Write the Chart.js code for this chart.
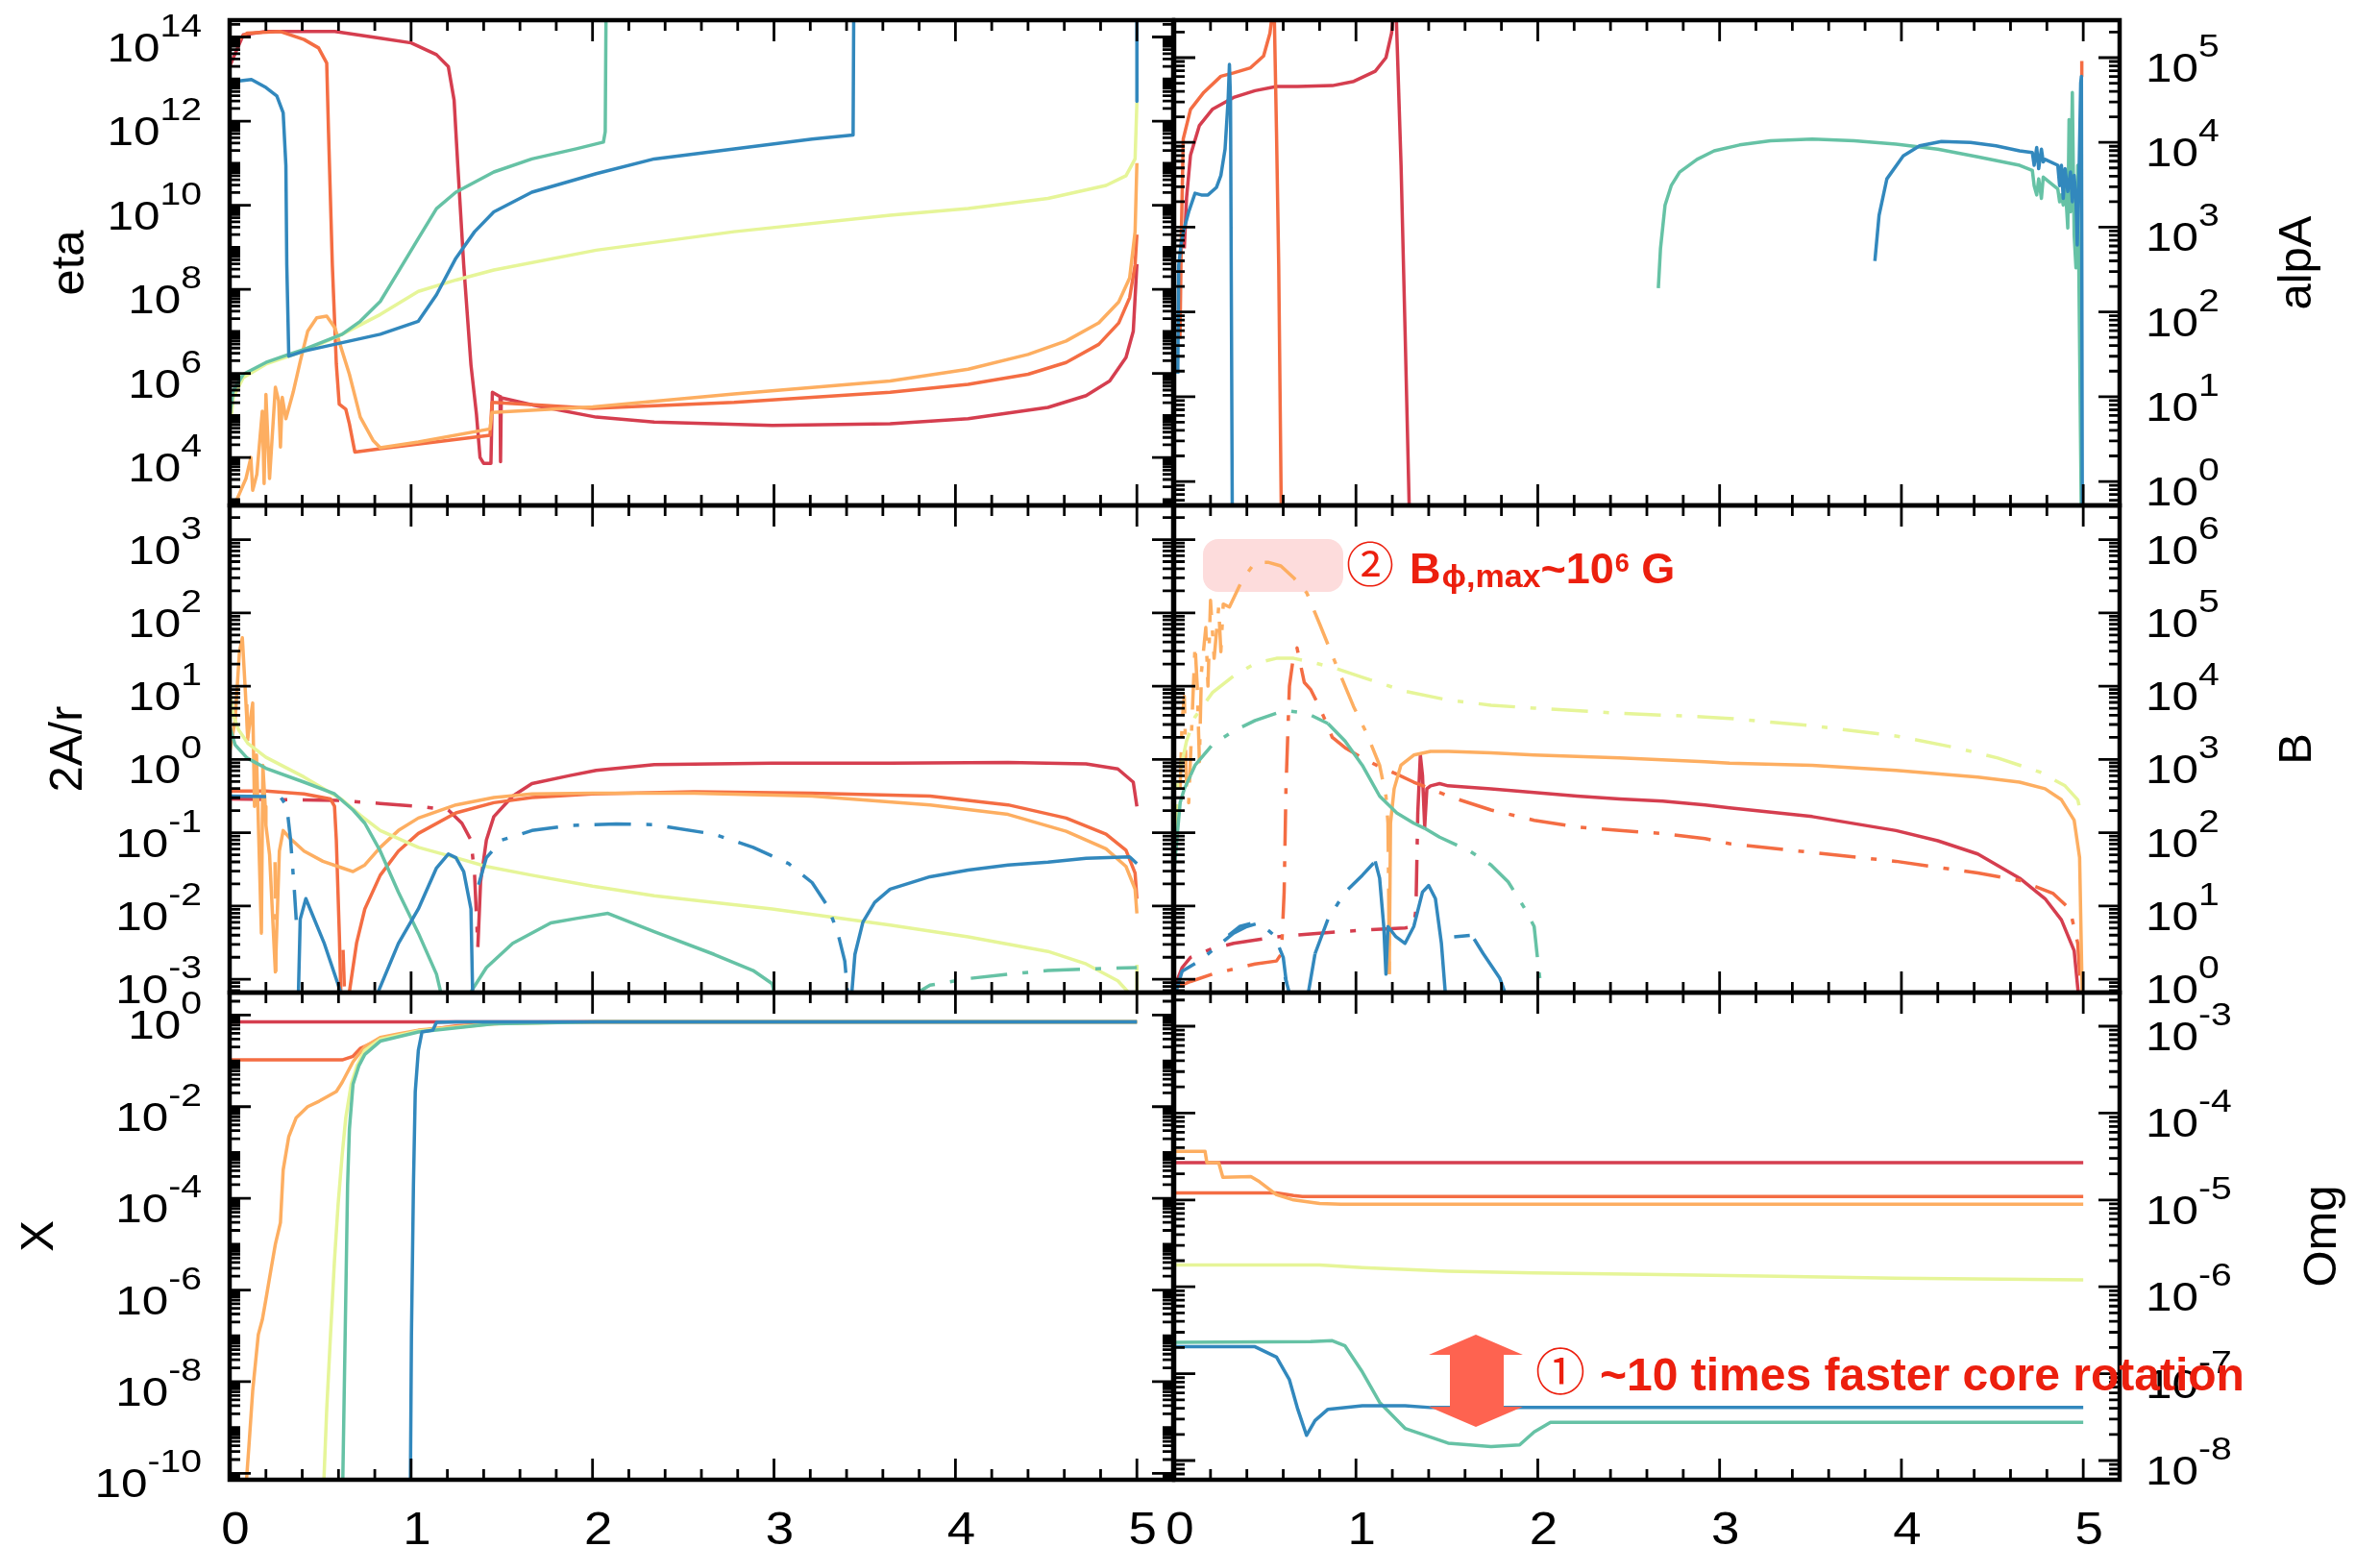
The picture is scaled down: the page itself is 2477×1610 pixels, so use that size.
<!DOCTYPE html>
<html>
<head>
<meta charset="utf-8">
<title>eta / alpA / 2A/r / B / X / Omg</title>
<script src="https://cdn.jsdelivr.net/npm/chart.js@4.4.1/dist/chart.umd.min.js"></script>
<style>
  html, body { margin: 0; padding: 0; background: #ffffff; }
  #page { position: relative; width: 2477px; height: 1610px; overflow: hidden; background: #ffffff; }
  #page canvas { position: absolute; left: 0; top: 0; }
</style>
</head>
<body>
<div id="page">
  <canvas id="etaChart" width="2477" height="1610"></canvas>
  <canvas id="alpAChart" width="2477" height="1610"></canvas>
  <canvas id="arChart" width="2477" height="1610"></canvas>
  <canvas id="bChart" width="2477" height="1610"></canvas>
  <canvas id="xChart" width="2477" height="1610"></canvas>
  <canvas id="omgChart" width="2477" height="1610"></canvas>
</div>
<script>
// x tick labels (same for all panels)
const xTickLabels = [0, 1, 2, 3, 4, 5];

// labelled decades (log10) of each y axis
const etaTicks = [4, 6, 8, 10, 12, 14];
const alpATicks = [0, 1, 2, 3, 4, 5];
const arTicks = [-3, -2, -1, 0, 1, 2, 3];
const bTicks = [0, 1, 2, 3, 4, 5, 6];
const xTicks = [-10, -8, -6, -4, -2, 0];
const omgTicks = [-8, -7, -6, -5, -4, -3];

// series: [x, log10(value)], null = gap
// --- eta
const etaRed = [[0,13.3],[0.075,14.05],[0.2,14.13],[0.58,14.13],[0.83,13.97],[1.0,13.86],[1.14,13.58],[1.205,13.3],[1.237,12.5],[1.258,10.9],[1.29,8.58],[1.33,6.2],[1.36,5.04],[1.38,4.0],[1.40,3.86],[1.44,3.86],[1.448,5.55],[1.49,5.45],[1.493,3.9],[1.497,5.42],[1.67,5.25],[2.02,4.96],[2.34,4.84],[2.99,4.76],[3.64,4.8],[4.07,4.92],[4.51,5.19],[4.72,5.47],[4.85,5.82],[4.94,6.38],[4.98,7.0],[5.0,8.6]];
const etaOrange = [[0,13.78],[0.095,14.09],[0.28,14.13],[0.41,13.94],[0.49,13.74],[0.535,13.38],[0.545,11.73],[0.566,8.58],[0.588,6.22],[0.604,5.27],[0.64,5.15],[0.66,4.8],[0.69,4.13],[0.83,4.21],[1.435,4.53],[1.446,5.31],[1.7,5.25],[2.0,5.17],[2.78,5.31],[3.64,5.55],[4.07,5.74],[4.4,5.98],[4.61,6.26],[4.79,6.69],[4.9,7.2],[4.96,7.8],[4.99,8.58],[5.0,9.3]];
const etaLightOrange = [[0,2.8],[0.03,2.9],[0.06,3.2],[0.09,3.5],[0.117,4.0],[0.127,3.22],[0.15,3.6],[0.18,5.1],[0.19,3.38],[0.2,5.5],[0.22,3.5],[0.252,5.67],[0.27,5.35],[0.28,4.25],[0.29,5.43],[0.31,4.92],[0.35,5.55],[0.39,6.3],[0.43,7.0],[0.48,7.32],[0.535,7.36],[0.58,7.08],[0.62,6.53],[0.66,5.98],[0.72,4.96],[0.79,4.41],[0.83,4.23],[1.04,4.37],[1.435,4.68],[1.446,5.07],[2.0,5.2],[2.78,5.51],[3.64,5.82],[4.07,6.1],[4.4,6.45],[4.61,6.77],[4.79,7.2],[4.9,7.7],[4.96,8.27],[4.99,9.37],[5.0,11.0]];
const etaYellow = [[0,4.6],[0.02,5.43],[0.075,5.9],[0.2,6.22],[0.41,6.53],[0.62,6.93],[0.83,7.4],[1.04,7.95],[1.247,8.22],[1.456,8.46],[2.02,8.93],[2.78,9.37],[3.64,9.76],[4.07,9.92],[4.51,10.16],[4.83,10.47],[4.94,10.7],[4.99,11.1],[5.0,12.44]];
const etaTeal = [[0,5.0],[0.02,5.59],[0.075,5.98],[0.2,6.26],[0.325,6.45],[0.41,6.57],[0.62,6.93],[0.72,7.24],[0.83,7.71],[0.93,8.42],[1.04,9.21],[1.14,9.92],[1.247,10.31],[1.456,10.79],[1.666,11.1],[1.91,11.34],[2.06,11.5],[2.07,11.75],[2.075,15]];
const etaBlue = [[0,12.7],[0.01,12.83],[0.04,12.95],[0.12,12.99],[0.2,12.8],[0.26,12.6],[0.295,12.2],[0.31,10.94],[0.315,8.58],[0.326,6.41],[0.41,6.53],[0.62,6.73],[0.83,6.93],[1.04,7.24],[1.14,7.87],[1.247,8.74],[1.35,9.37],[1.456,9.84],[1.666,10.31],[2.02,10.75],[2.34,11.1],[2.78,11.34],[3.21,11.57],[3.436,11.67],[3.44,15],[5.0,15],[5.0,12.47]];

// --- alpA
const alpARed = [[0.056,2.75],[0.068,3.34],[0.09,3.85],[0.139,4.2],[0.21,4.39],[0.327,4.53],[0.445,4.61],[0.563,4.66],[0.68,4.66],[0.87,4.67],[0.988,4.72],[1.106,4.84],[1.165,5.0],[1.196,5.29],[1.21,5.6],[1.22,5.6],[1.248,3.73],[1.27,1.78],[1.295,-0.5]];
const alpAOrange = [[0.032,1.68],[0.04,2.95],[0.05,4.04],[0.09,4.39],[0.163,4.59],[0.257,4.78],[0.327,4.82],[0.42,4.88],[0.492,5.02],[0.527,5.29],[0.545,5.6],[0.55,5.6],[0.563,4.12],[0.575,2.56],[0.59,-0.5],[2,null],[4.99,4.78],[4.992,4.96]];
const alpATeal = [[2.663,2.28],[2.675,2.75],[2.70,3.26],[2.734,3.49],[2.78,3.65],[2.876,3.8],[2.97,3.9],[3.11,3.97],[3.28,4.02],[3.51,4.04],[3.74,4.02],[3.97,3.98],[4.2,3.92],[4.42,3.83],[4.65,3.73],[4.72,3.67],[4.73,3.49],[4.744,3.38],[4.755,3.57],[4.77,3.34],[4.78,3.59],[4.86,3.45],[4.87,3.3],[4.88,3.38],[4.89,3.26],[4.9,3.53],[4.915,2.99],[4.922,4.27],[4.93,3.18],[4.94,4.59],[4.95,2.91],[4.96,2.52],[4.97,3.73],[4.99,-0.5]];
const alpABlue = [[0.02,1.27],[0.025,2.55],[0.04,2.83],[0.056,2.99],[0.08,3.18],[0.115,3.4],[0.15,3.38],[0.186,3.38],[0.233,3.47],[0.257,3.61],[0.28,3.92],[0.297,4.51],[0.304,4.92],[0.31,4.5],[0.32,-0.5],[2,null],[3.854,2.6],[3.877,3.14],[3.92,3.57],[4.01,3.84],[4.1,3.96],[4.22,4.01],[4.38,4.0],[4.52,3.96],[4.65,3.9],[4.72,3.88],[4.73,3.73],[4.744,3.94],[4.755,3.69],[4.77,3.92],[4.78,3.77],[4.79,3.8],[4.86,3.73],[4.87,3.49],[4.88,3.73],[4.89,3.34],[4.9,3.69],[4.915,3.42],[4.93,3.65],[4.94,3.3],[4.95,3.61],[4.96,3.34],[4.967,2.79],[4.977,3.65],[4.986,4.7],[4.99,4.78],[4.995,-0.5]];

// --- 2A/r (solid = positive, dash-dot = negative)
const arRed = [[1.368,-2.56],[1.383,-1.67],[1.415,-1.1],[1.456,-0.78],[1.56,-0.5],[1.666,-0.33],[1.875,-0.22],[2.02,-0.15],[2.34,-0.07],[2.99,-0.05],[3.64,-0.05],[4.29,-0.04],[4.72,-0.06],[4.895,-0.13],[4.98,-0.31],[5.0,-0.64]];
const arRedNeg = [[0,-0.54],[0.3,-0.55],[0.6,-0.56],[0.83,-0.6],[1.04,-0.64],[1.205,-0.69],[1.28,-0.87],[1.33,-1.1],[1.35,-1.58],[1.368,-2.56]];
const arOrange = [[0,-0.43],[0.2,-0.43],[0.41,-0.47],[0.556,-0.54],[0.578,-0.64],[0.588,-1.1],[0.605,-2.42],[0.615,-3.4],[0.65,-3.4],[0.66,-3.17],[0.70,-2.5],[0.745,-2.04],[0.83,-1.58],[0.93,-1.25],[1.04,-1.01],[1.247,-0.73],[1.456,-0.59],[1.666,-0.52],[2.0,-0.47],[2.56,-0.44],[3.21,-0.46],[3.86,-0.5],[4.29,-0.62],[4.61,-0.8],[4.83,-1.02],[4.94,-1.24],[4.99,-1.55],[5.0,-1.9]];
const arOrangeNeg = [[0.625,-2.6],[0.635,-3.3]];
const arLightOrange = [[0,0.1],[0.03,0.53],[0.054,1.47],[0.07,1.66],[0.085,1.0],[0.1,0.3],[0.127,0.77],[0.137,-0.64],[0.148,0.06],[0.175,-2.37],[0.183,-0.08],[0.196,-0.64],[0.2,-0.9],[0.22,-1.3],[0.252,-2.9],[0.274,-1.25],[0.295,-0.97],[0.326,-1.06],[0.41,-1.25],[0.514,-1.39],[0.62,-1.48],[0.68,-1.53],[0.745,-1.44],[0.83,-1.2],[0.93,-0.97],[1.04,-0.8],[1.247,-0.62],[1.456,-0.52],[1.666,-0.47],[2.0,-0.46],[2.56,-0.46],[3.21,-0.5],[3.86,-0.62],[4.29,-0.75],[4.61,-0.98],[4.83,-1.22],[4.94,-1.46],[4.99,-1.77],[5.0,-2.1]];
const arLightOrangeNeg = [[0.095,0.75],[0.1,0.2],[0.12,null],[0.25,-1.4],[0.255,-2.95]];
const arYellow = [[0,0.95],[0.02,0.6],[0.05,0.4],[0.1,0.22],[0.2,0.03],[0.41,-0.24],[0.62,-0.55],[0.72,-0.76],[0.83,-0.97],[1.04,-1.2],[1.247,-1.34],[1.415,-1.46],[1.666,-1.58],[2.0,-1.73],[2.34,-1.86],[2.99,-2.04],[3.64,-2.26],[4.07,-2.42],[4.51,-2.62],[4.72,-2.79],[4.895,-3.02],[4.98,-3.25]];
const arYellowNeg = [[5.0,-3.3],[5.0,-2.66]];
const arTeal = [[0,0.45],[0.03,0.2],[0.096,0.02],[0.2,-0.12],[0.41,-0.31],[0.578,-0.47],[0.68,-0.69],[0.745,-0.87],[0.83,-1.25],[0.93,-1.81],[1.04,-2.37],[1.14,-2.93],[1.175,-3.3],[1.32,-3.3],[1.33,-3.17],[1.415,-2.84],[1.56,-2.51],[1.77,-2.23],[1.91,-2.17],[2.085,-2.1],[2.34,-2.35],[2.67,-2.66],[2.885,-2.88],[2.99,-3.06],[3.01,-3.3]];
const arTealNeg = [[3.71,-3.3],[3.86,-3.08],[4.07,-2.99],[4.29,-2.93],[4.51,-2.88],[4.72,-2.86],[5.0,-2.84]];
const arBlue = [[0.378,-3.3],[0.389,-2.18],[0.42,-1.9],[0.52,-2.5],[0.629,-3.3],[0.7,null],[0.797,-3.3],[0.93,-2.51],[1.04,-2.04],[1.14,-1.48],[1.205,-1.29],[1.247,-1.34],[1.29,-1.53],[1.33,-2.04],[1.34,-3.3],[2,null],[3.425,-3.3],[3.446,-2.66],[3.49,-2.22],[3.555,-1.95],[3.64,-1.77],[3.86,-1.6],[4.07,-1.51],[4.29,-1.44],[4.51,-1.4],[4.72,-1.35],[4.96,-1.33],[5.0,-1.42]];
const arBlueNeg = [[0,-0.5],[0.28,-0.51],[0.315,-0.64],[0.336,-1.1],[0.357,-1.8],[0.367,-2.19],[1.3,null],[1.372,-1.71],[1.415,-1.34],[1.5,-1.1],[1.666,-0.97],[1.875,-0.9],[2.13,-0.88],[2.34,-0.89],[2.67,-1.02],[2.885,-1.2],[3.08,-1.42],[3.21,-1.68],[3.295,-2.0],[3.35,-2.35],[3.39,-2.75],[3.41,-3.3]];

// --- B (solid / dash-dot components)
const bRed = [[1.34,2.27],[1.354,3.06],[1.366,2.78],[1.378,2.08],[1.39,2.6],[1.41,2.64],[1.46,2.67],[1.507,2.64],[1.743,2.6],[1.98,2.55],[2.215,2.5],[2.45,2.46],[2.687,2.43],[2.92,2.38],[3.055,2.34],[3.51,2.22],[3.97,2.03],[4.2,1.89],[4.42,1.71],[4.65,1.38],[4.79,1.1],[4.88,0.81],[4.95,0.39],[4.977,-0.3]];
const bRedDash = [[0,-0.12],[0.044,0.16],[0.09,0.3],[0.21,0.42],[0.327,0.49],[0.563,0.58],[0.8,0.63],[1.035,0.67],[1.27,0.7],[1.318,0.72],[1.33,0.96],[1.34,2.27]];
const bOrangeDash = [[0.02,-0.1],[0.09,-0.03],[0.21,0.07],[0.327,0.14],[0.445,0.21],[0.563,0.25],[0.59,0.35],[0.605,1.19],[0.615,2.6],[0.634,4.0],[0.657,4.42],[0.676,4.52],[0.692,4.33],[0.716,4.05],[0.752,3.95],[0.788,3.77],[0.823,3.58],[0.87,3.3],[0.94,3.16],[1.035,3.02],[1.13,2.9],[1.224,2.8],[1.318,2.69],[1.41,2.6],[1.507,2.5],[1.743,2.31],[1.98,2.17],[2.215,2.08],[2.45,2.03],[2.687,1.99],[2.92,1.92],[3.055,1.85],[3.51,1.73],[3.97,1.61],[4.42,1.45],[4.65,1.35],[4.835,1.17],[4.926,0.96],[4.97,0.49],[4.99,-0.3]];
const bLightOrange = [[1.183,0.07],[1.19,2.13],[1.21,2.6],[1.247,2.92],[1.318,3.06],[1.41,3.11],[1.507,3.11],[1.743,3.09],[1.98,3.06],[2.45,3.02],[2.92,2.97],[3.055,2.95],[3.51,2.92],[3.97,2.85],[4.42,2.76],[4.65,2.69],[4.79,2.6],[4.88,2.45],[4.95,2.17],[4.98,1.66],[4.995,-0.3]];
const bLightOrangeDash = [[0.033,2.6],[0.044,3.53],[0.056,3.86],[0.068,2.6],[0.08,2.41],[0.115,4.56],[0.127,4.0],[0.139,2.97],[0.15,4.19],[0.174,4.8],[0.186,4.0],[0.2,5.17],[0.22,4.38],[0.245,5.08],[0.257,4.47],[0.27,5.12],[0.304,5.08],[0.375,5.45],[0.445,5.69],[0.516,5.69],[0.587,5.64],[0.657,5.48],[0.73,5.27],[0.8,4.85],[0.893,4.28],[0.987,3.72],[1.06,3.35],[1.13,2.92],[1.165,2.5],[1.176,2.13],[1.18,1.19],[1.183,0.07]];
const bYellowDash = [[0.009,1.89],[0.02,2.69],[0.068,3.25],[0.115,3.58],[0.21,3.91],[0.327,4.14],[0.445,4.31],[0.563,4.38],[0.657,4.38],[0.752,4.33],[0.893,4.24],[1.035,4.12],[1.27,3.93],[1.507,3.81],[1.743,3.74],[1.98,3.7],[2.45,3.63],[2.92,3.58],[3.055,3.56],[3.51,3.46],[3.97,3.32],[4.3,3.16],[4.53,3.02],[4.76,2.83],[4.9,2.64],[4.97,2.45],[4.995,2.17]];
const bTeal = [[0.0,1.5],[0.016,1.94],[0.033,2.41],[0.056,2.6],[0.09,2.78],[0.5,null],[0.846,3.49],[0.94,3.25],[1.035,2.92],[1.13,2.5],[1.224,2.27],[1.318,2.13],[1.378,2.06]];
const bTealDash = [[0.09,2.78],[0.115,2.92],[0.21,3.2],[0.327,3.39],[0.445,3.53],[0.563,3.63],[0.634,3.66],[0.73,3.63],[0.846,3.49],[1.0,null],[1.378,2.06],[1.46,1.94],[1.626,1.75],[1.743,1.56],[1.837,1.33],[1.93,0.96],[1.98,0.72],[2.0,0.25],[2.026,-0.3]];
const bBlue = [[0.3,0.6],[0.36,0.72],[0.42,0.76],[0.5,null],[0.61,0.03],[0.646,-0.3],[0.7,null],[0.73,-0.3],[0.775,0.35],[0.9,null],[1.106,1.61],[1.13,1.38],[1.153,0.72],[1.165,0.07],[1.176,0.72],[1.22,0.58],[1.27,0.49],[1.318,0.72],[1.366,1.19],[1.4,1.28],[1.437,1.1],[1.47,0.49],[1.495,-0.3],[1.6,null],[1.65,0.55],[1.7,0.35],[1.79,0.02],[1.837,-0.3]];
const bBlueDash = [[0.01,-0.17],[0.044,0.11],[0.139,0.25],[0.257,0.49],[0.327,0.63],[0.4,0.72],[0.47,0.77],[0.55,0.6],[0.6,0.3],[0.63,-0.3],[0.7,null],[0.775,0.35],[0.846,0.82],[0.94,1.19],[1.035,1.42],[1.106,1.61],[1.2,null],[1.54,0.58],[1.626,0.6]];

// --- X
const xRed = [[0,-0.147],[5.0,-0.147]];
const xOrange = [[0,-0.98],[0.62,-0.98],[0.68,-0.9],[0.72,-0.73],[0.79,-0.6],[0.83,-0.53],[0.93,-0.43],[1.04,-0.35],[1.247,-0.24],[1.456,-0.19],[1.666,-0.155],[2.02,-0.147],[5.0,-0.147]];
const xLightOrange = [[0.09,-10.3],[0.106,-9.42],[0.127,-8.2],[0.158,-6.97],[0.18,-6.65],[0.2,-6.2],[0.23,-5.5],[0.252,-5.0],[0.28,-4.53],[0.295,-3.38],[0.326,-2.65],[0.367,-2.24],[0.43,-2.0],[0.493,-1.88],[0.588,-1.67],[0.62,-1.47],[0.68,-1.02],[0.745,-0.69],[0.83,-0.49],[0.93,-0.41],[1.04,-0.33],[1.456,-0.18],[2.02,-0.147],[5.0,-0.147]];
const xYellow = [[0.518,-10.3],[0.535,-8.6],[0.556,-6.97],[0.578,-5.34],[0.598,-4.12],[0.62,-3.06],[0.64,-2.24],[0.67,-1.51],[0.703,-1.1],[0.745,-0.77],[0.83,-0.53],[1.04,-0.35],[1.456,-0.19],[2.02,-0.147],[5.0,-0.147]];
const xTeal = [[0.623,-10.3],[0.63,-8.6],[0.64,-6.16],[0.65,-3.71],[0.66,-2.49],[0.68,-1.51],[0.713,-1.1],[0.745,-0.86],[0.83,-0.57],[1.04,-0.37],[1.456,-0.19],[2.02,-0.147],[5.0,-0.147]];
const xBlue = [[0.996,-10.3],[1.002,-6.97],[1.013,-3.71],[1.023,-1.67],[1.04,-0.77],[1.06,-0.37],[1.12,-0.33],[1.14,-0.16],[1.247,-0.147],[5.0,-0.147]];

// --- Omg
const omgRed = [[0,-4.57],[5.0,-4.57]];
const omgOrange = [[0,-4.92],[0.563,-4.92],[0.657,-4.95],[0.705,-4.96],[5.0,-4.96]];
const omgLightOrange = [[0,-4.44],[0.17,-4.44],[0.18,-4.57],[0.245,-4.57],[0.268,-4.74],[0.422,-4.73],[0.469,-4.79],[0.563,-4.94],[0.657,-5.0],[0.8,-5.04],[0.917,-5.05],[5.0,-5.05]];
const omgYellow = [[0,-5.75],[0.8,-5.75],[1.035,-5.78],[1.507,-5.82],[1.98,-5.84],[2.687,-5.86],[3.32,-5.88],[3.97,-5.9],[5.0,-5.92]];
const omgTeal = [[0,-6.64],[0.75,-6.63],[0.87,-6.62],[0.94,-6.68],[1.035,-6.98],[1.13,-7.33],[1.27,-7.63],[1.507,-7.8],[1.743,-7.84],[1.9,-7.82],[1.98,-7.67],[2.07,-7.56],[5.0,-7.56]];
const omgBlue = [[0,-6.69],[0.445,-6.69],[0.563,-6.81],[0.634,-7.07],[0.68,-7.41],[0.728,-7.71],[0.775,-7.54],[0.846,-7.41],[1.035,-7.37],[1.27,-7.37],[1.41,-7.39],[5.0,-7.39]];

// colours
const RED = '#d53e4f', ORANGE = '#f46d43', LORANGE = '#fdae61', YELLOW = '#e6f598', TEAL = '#66c2a5', BLUE = '#3288bd';
const NOTE_RED = '#ec1f0e';
const FONT = '"Liberation Sans", Arial, sans-serif';
const DASHDOT = [38, 16, 6, 16];
const LABEL_SX = 1.15;

function makeLine(arr, color, dashed) {
  return {
    data: arr.map(p => ({ x: p[0], y: p[1] })),
    borderColor: color,
    borderWidth: 3.5,
    borderDash: dashed ? DASHDOT : [],
    borderJoinStyle: 'round',
    pointRadius: 0,
    fill: false,
    tension: 0,
    spanGaps: false
  };
}

// "10" with a superscript exponent, centred on y
function drawPow(ctx, exp, x, y, align) {
  ctx.font = '43px ' + FONT;
  const w10 = ctx.measureText('10').width;
  ctx.font = '34px ' + FONT;
  const wExp = ctx.measureText(String(exp)).width;
  const total = (w10 + wExp) * LABEL_SX;
  const x0 = align === 'right' ? x - total : x;
  ctx.save();
  ctx.translate(x0, y + 25);
  ctx.scale(LABEL_SX, 1);
  ctx.fillStyle = '#000';
  ctx.textAlign = 'left';
  ctx.textBaseline = 'alphabetic';
  ctx.font = '43px ' + FONT;
  ctx.fillText('10', 0, 0);
  ctx.font = '34px ' + FONT;
  ctx.fillText(String(exp), w10, -26);
  ctx.restore();
}

function axesPlugin(p) {
  return {
    id: 'axes',
    beforeDatasetsDraw(chart) {
      if (p.under) p.under(chart.ctx);
    },
    afterDatasetsDraw(chart) {
      const ctx = chart.ctx, a = chart.chartArea;
      const xs = chart.scales.x, ys = chart.scales.y;
      ctx.save();
      ctx.strokeStyle = '#000';
      ctx.lineWidth = 2.8;
      ctx.beginPath();
      for (let i = 0; i <= 26; i++) {
        const px = xs.getPixelForValue(i / 5);
        const len = i % 5 === 0 ? 22 : 11;
        ctx.moveTo(px, a.bottom); ctx.lineTo(px, a.bottom - len);
        ctx.moveTo(px, a.top); ctx.lineTo(px, a.top + len);
      }
      for (let d = Math.floor(ys.min); d <= Math.ceil(ys.max); d++) {
        for (let m = 1; m <= 9; m++) {
          const v = d + Math.log10(m);
          if (v < ys.min || v > ys.max) continue;
          const py = ys.getPixelForValue(v);
          const len = (m === 1 && p.ticks.includes(d)) ? 22 : 11;
          ctx.moveTo(a.left, py); ctx.lineTo(a.left + len, py);
          ctx.moveTo(a.right, py); ctx.lineTo(a.right - len, py);
        }
      }
      ctx.stroke();
      ctx.lineWidth = 4.5;
      ctx.strokeRect(a.left, a.top, a.right - a.left, a.bottom - a.top);
      ctx.restore();
    },
    afterDraw(chart) {
      const ctx = chart.ctx, a = chart.chartArea;
      const xs = chart.scales.x, ys = chart.scales.y;
      ctx.save();
      p.ticks.forEach(d => {
        const py = ys.getPixelForValue(d);
        if (p.side === 'left') drawPow(ctx, d, a.left - 29, py, 'right');
        else drawPow(ctx, d, a.right + 27, py, 'left');
      });
      if (p.xLabels) {
        ctx.font = '48px ' + FONT;
        ctx.fillStyle = '#000';
        ctx.textAlign = 'center';
        ctx.textBaseline = 'alphabetic';
        xTickLabels.forEach(k => {
          ctx.save();
          ctx.translate(xs.getPixelForValue(k) + 6, 1607);
          ctx.scale(1.1, 1);
          ctx.fillText(String(k), 0, 0);
          ctx.restore();
        });
      }
      ctx.font = '49px ' + FONT;
      ctx.fillStyle = '#000';
      ctx.textAlign = 'center';
      ctx.textBaseline = 'alphabetic';
      ctx.translate(p.titleX, (a.top + a.bottom) / 2);
      ctx.rotate(-Math.PI / 2);
      ctx.fillText(p.title, 0, 0);
      ctx.restore();
      if (p.over) p.over(ctx);
    }
  };
}

function makePanel(p) {
  const [l, t, r, b] = p.box;
  new Chart(document.getElementById(p.id), {
    type: 'line',
    data: { datasets: p.sets.map(s => makeLine(s[0], s[1], s[2])).reverse() },
    options: {
      responsive: false,
      animation: false,
      devicePixelRatio: 1,
      events: [],
      layout: { padding: { left: l, top: t, right: 2477 - r, bottom: 1610 - b } },
      scales: {
        x: { type: 'linear', min: 0, max: 5.2, display: false },
        y: { type: 'linear', min: p.yMin, max: p.yMax, display: false }
      },
      plugins: { legend: { display: false }, tooltip: { enabled: false } }
    },
    plugins: [axesPlugin(p)]
  });
}

// annotation: shaded box behind the B_phi peak
function bBox(ctx) {
  ctx.save();
  ctx.fillStyle = '#fddcdc';
  ctx.beginPath();
  ctx.roundRect(1252, 561, 146, 55, 16);
  ctx.fill();
  ctx.restore();
}

function bNote(ctx) {
  ctx.save();
  ctx.fillStyle = NOTE_RED;
  ctx.textAlign = 'left';
  ctx.textBaseline = 'alphabetic';
  ctx.font = '50px "Noto Sans CJK JP", "DejaVu Sans", sans-serif';
  ctx.fillText('②', 1401, 606);
  let x = 1467;
  ctx.font = 'bold 45px ' + FONT;
  ctx.fillText('B', x, 607);
  x += ctx.measureText('B').width + 1;
  ctx.font = 'bold 34px ' + FONT + ', "DejaVu Sans"';
  ctx.fillText('ϕ,max', x, 611);
  x += ctx.measureText('ϕ,max').width;
  ctx.font = 'bold 45px ' + FONT;
  ctx.fillText('~10', x, 607);
  x += ctx.measureText('~10').width + 1;
  ctx.font = 'bold 27px ' + FONT;
  ctx.fillText('6', x, 595);
  x += ctx.measureText('6').width;
  ctx.font = 'bold 45px ' + FONT;
  ctx.fillText(' G', x, 607);
  ctx.restore();
}

function omgNote(ctx) {
  ctx.save();
  ctx.fillStyle = '#fe6350';
  ctx.beginPath();
  ctx.moveTo(1536, 1389);
  ctx.lineTo(1585, 1410); ctx.lineTo(1565, 1410); ctx.lineTo(1565, 1464); ctx.lineTo(1585, 1464);
  ctx.lineTo(1536, 1485);
  ctx.lineTo(1487, 1464); ctx.lineTo(1509, 1464); ctx.lineTo(1509, 1410); ctx.lineTo(1487, 1410);
  ctx.closePath();
  ctx.fill();
  ctx.fillStyle = NOTE_RED;
  ctx.textAlign = 'left';
  ctx.textBaseline = 'alphabetic';
  ctx.font = '52px "Noto Sans CJK JP", "DejaVu Sans", sans-serif';
  ctx.fillText('①', 1598, 1447);
  ctx.font = 'bold 48px ' + FONT;
  ctx.fillText('~10 times faster core rotation', 1665, 1447);
  ctx.restore();
}

const panels = [
  { id: 'etaChart', box: [239, 21, 1221, 526], yMin: 2.86, yMax: 14.40, ticks: etaTicks, side: 'left',
    title: 'eta', titleX: 87,
    sets: [[etaRed, RED], [etaOrange, ORANGE], [etaLightOrange, LORANGE], [etaYellow, YELLOW], [etaTeal, TEAL], [etaBlue, BLUE]] },
  { id: 'alpAChart', box: [1222, 21, 2206, 526], yMin: -0.283, yMax: 5.442, ticks: alpATicks, side: 'right',
    title: 'alpA', titleX: 2405,
    sets: [[alpARed, RED], [alpAOrange, ORANGE], [alpATeal, TEAL], [alpABlue, BLUE]] },
  { id: 'arChart', box: [239, 526, 1221, 1033], yMin: -3.181, yMax: 3.466, ticks: arTicks, side: 'left',
    title: '2A/r', titleX: 85,
    sets: [[arRed, RED], [arRedNeg, RED, true], [arOrange, ORANGE], [arOrangeNeg, ORANGE, true],
           [arLightOrange, LORANGE], [arLightOrangeNeg, LORANGE, true], [arYellow, YELLOW], [arYellowNeg, YELLOW, true],
           [arTeal, TEAL], [arTealNeg, TEAL, true], [arBlue, BLUE], [arBlueNeg, BLUE, true]] },
  { id: 'bChart', box: [1222, 526, 2206, 1033], yMin: -0.181, yMax: 6.466, ticks: bTicks, side: 'right',
    title: 'B', titleX: 2405, under: bBox, over: bNote,
    sets: [[bRed, RED], [bRedDash, RED, true], [bOrangeDash, ORANGE, true],
           [bLightOrange, LORANGE], [bLightOrangeDash, LORANGE, true], [bYellowDash, YELLOW, true],
           [bTeal, TEAL], [bTealDash, TEAL, true], [bBlue, BLUE], [bBlueDash, BLUE, true]] },
  { id: 'xChart', box: [239, 1033, 1221, 1540], yMin: -10.139, yMax: 0.49, ticks: xTicks, side: 'left',
    title: 'X', titleX: 55, xLabels: true,
    sets: [[xRed, RED], [xOrange, ORANGE], [xLightOrange, LORANGE], [xYellow, YELLOW], [xTeal, TEAL], [xBlue, BLUE]] },
  { id: 'omgChart', box: [1222, 1033, 2206, 1540], yMin: -8.221, yMax: -2.613, ticks: omgTicks, side: 'right',
    title: 'Omg', titleX: 2431, xLabels: true, over: omgNote,
    sets: [[omgRed, RED], [omgOrange, ORANGE], [omgLightOrange, LORANGE], [omgYellow, YELLOW], [omgTeal, TEAL], [omgBlue, BLUE]] }
];

panels.forEach(makePanel);
</script>
</body>
</html>
